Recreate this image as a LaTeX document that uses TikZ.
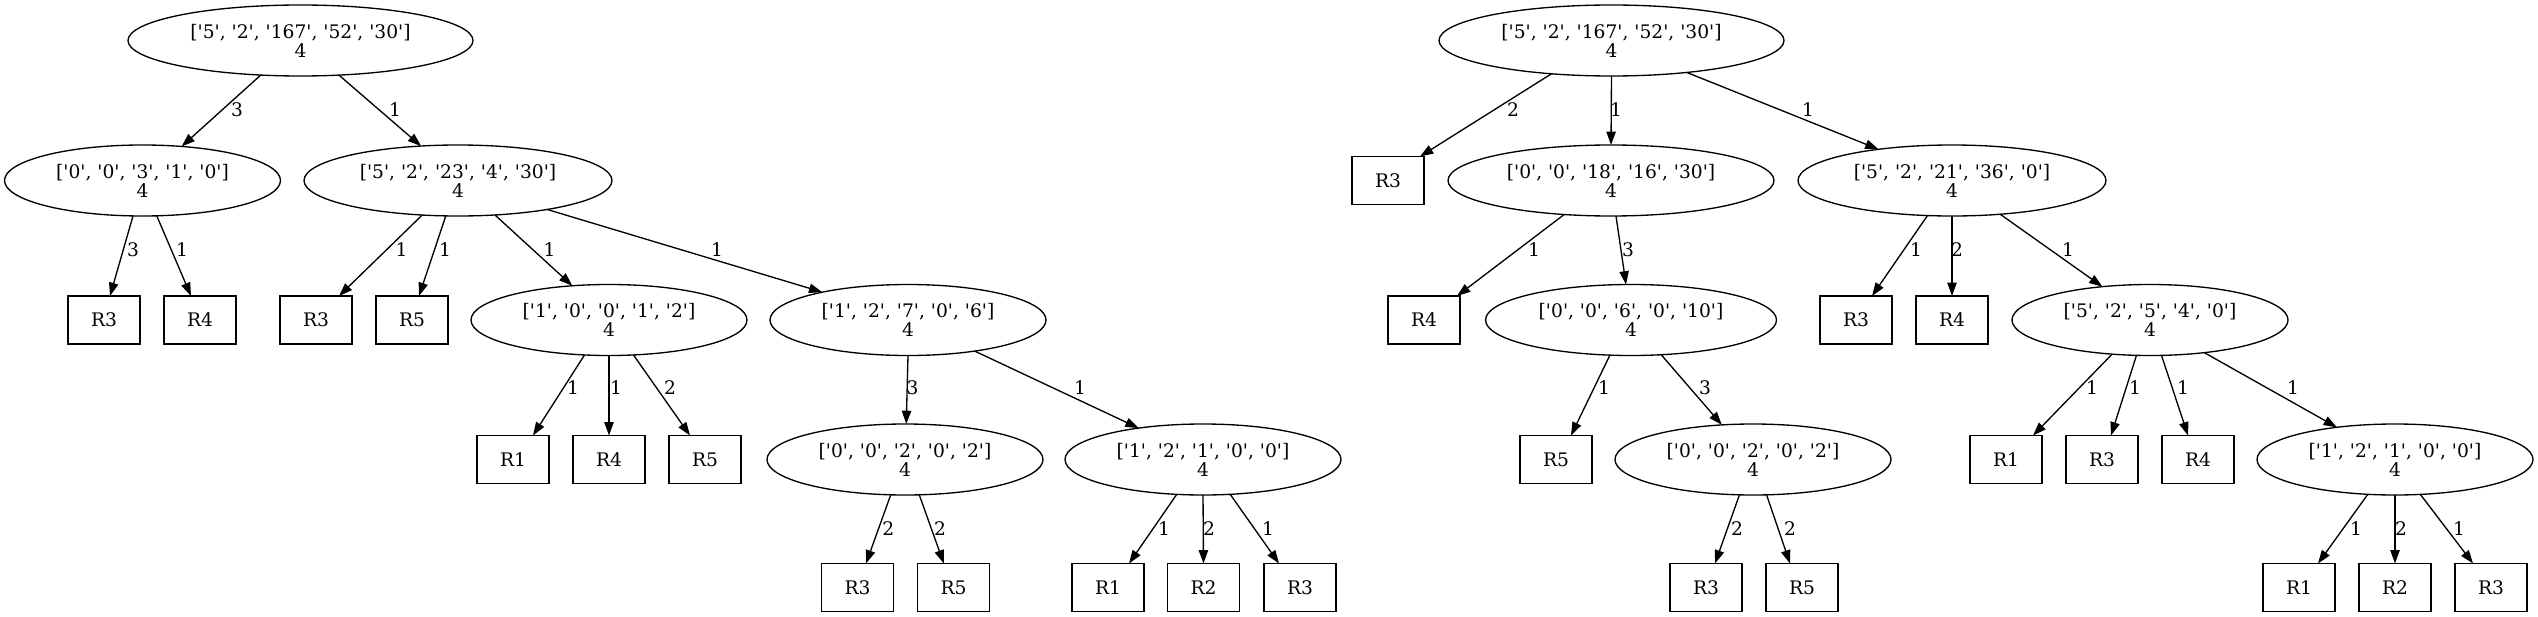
\documentclass[tikz,border=0pt]{standalone}
\usepackage{fontspec}
\setmainfont{DejaVu Serif}[Ligatures=TeXOff]
\usetikzlibrary{shapes.geometric,arrows.meta,calc}
\newcommand\nf{\fontsize{14}{14.25}\selectfont}
\begin{document}
\begin{tikzpicture}[x=0.75pt,y=-0.75pt,
  ell/.style={draw, ellipse, line width=1pt, minimum height=53.25pt, inner sep=0pt, outer sep=0pt, align=center, font=\nf},
  wA/.style={minimum width=258.75pt},
  wC/.style={minimum width=231pt},
  wI/.style={minimum width=244.5pt},
  wK/.style={minimum width=218.25pt},
  wS/.style={minimum width=207pt},
  leaf/.style={draw, rectangle, line width=1pt, minimum width=54pt, minimum height=36pt, inner sep=0pt, outer sep=0pt, font=\nf},
  edge/.style={line width=1pt, -{Triangle[length=10pt,width=7pt]}},
  lbl/.style={inner sep=0pt, font=\nf}]
\path[use as bounding box] (0,0) rectangle (2538,617);
% ---------------- left tree ----------------
\node[ell,wA] (A) at (300.5,40.5) {['5', '2', '167', '52', '30']\\4};
\node[ell,wS] (B) at (142.5,180.5) {['0', '0', '3', '1', '0']\\4};
\node[ell,wC] (C) at (458,180.5) {['5', '2', '23', '4', '30']\\4};
\node[leaf] (bR3) at (104,320) {R3};
\node[leaf] (bR4) at (200,320) {R4};
\node[leaf] (cR3) at (316,320) {R3};
\node[leaf] (cR5) at (412,320) {R5};
\node[ell,wS] (D) at (609,320) {['1', '0', '0', '1', '2']\\4};
\node[ell,wS] (E) at (908,320) {['1', '2', '7', '0', '6']\\4};
\node[leaf] (dR1) at (513,459.5) {R1};
\node[leaf] (dR4) at (609,459.5) {R4};
\node[leaf] (dR5) at (705,459.5) {R5};
\node[ell,wS] (F) at (905,459.5) {['0', '0', '2', '0', '2']\\4};
\node[ell,wS] (G) at (1203,459.5) {['1', '2', '1', '0', '0']\\4};
\node[leaf] (fR3) at (857.5,587.5) {R3};
\node[leaf] (fR5) at (953.5,587.5) {R5};
\node[leaf] (gR1) at (1108,587.5) {R1};
\node[leaf] (gR2) at (1203.5,587.5) {R2};
\node[leaf] (gR3) at (1300,587.5) {R3};

\draw[edge] (A.221.2) -- (B.41.5);
\draw[edge] (A.318) -- (C.137);
\draw[edge] (B.255) -- ($(bR3.north)+(6,0)$);
\draw[edge] (B.292.3) -- ($(bR4.north)+(-9,0)$);
\draw[edge] (C.224.6) -- ($(cR3.north)+(23,0)$);
\draw[edge] (C.251.3) -- ($(cR5.north)+(7,0)$);
\draw[edge] (C.317.8) -- (D.137.25);
\draw[edge] (C.342.8) -- (E.162.7);
\draw[edge] (D.235.5) -- ($(dR1.north)+(20,0)$);
\draw[edge] (D.270) -- (dR4.north);
\draw[edge] (D.305.6) -- ($(dR5.north)+(-15,0)$);
\draw[edge] (E.270) -- (F.88);
\draw[edge] (E.335.6) -- (G.154.3);
\draw[edge] (F.248.4) -- ($(fR3.north)+(8.5,0)$);
\draw[edge] (F.292.5) -- ($(fR5.north)+(-9.7,0)$);
\draw[edge] (G.233.8) -- ($(gR1.north)+(21,0)$);
\draw[edge] (G.270) -- (gR2.north);
\draw[edge] (G.308.9) -- ($(gR3.north)+(-21,0)$);

\node[lbl] (l1) at (237,110) {3};
\node[lbl] (l2) at (395,110) {1};
\node[lbl] (l3) at (133,250) {3};
\node[lbl] (l4) at (182,250) {1};
\node[lbl] (l5) at (401.5,250) {1};
\node[lbl] (l6) at (445,250) {1};
\node[lbl] (l7) at (549.5,250) {1};
\node[lbl] (l8) at (717,250) {1};
\node[lbl] (l9) at (573,388) {1};
\node[lbl] (l10) at (616,388) {1};
\node[lbl] (l11) at (670,388) {2};
\node[lbl] (l12) at (912.5,388) {3};
\node[lbl] (l13) at (1080,388) {1};
\node[lbl] (l14) at (888.4,529) {2};
\node[lbl] (l15) at (940,529) {2};
\node[lbl] (l16) at (1164,529) {1};
\node[lbl] (l17) at (1209,529) {2};
\node[lbl] (l18) at (1268,529) {1};

% ---------------- right tree ----------------
\node[ell,wA] (H) at (1611.5,40.5) {['5', '2', '167', '52', '30']\\4};
\node[leaf] (hR3) at (1388,180.5) {R3};
\node[ell,wI] (I) at (1611,180.5) {['0', '0', '18', '16', '30']\\4};
\node[ell,wC] (J) at (1952,180.5) {['5', '2', '21', '36', '0']\\4};
\node[leaf] (iR4) at (1424,320) {R4};
\node[ell,wK] (K) at (1631,320) {['0', '0', '6', '0', '10']\\4};
\node[leaf] (jR3) at (1856,320) {R3};
\node[leaf] (jR4) at (1952,320) {R4};
\node[ell,wS] (L) at (2150,320) {['5', '2', '5', '4', '0']\\4};
\node[leaf] (kR5) at (1556,459.5) {R5};
\node[ell,wS] (M) at (1753,459.5) {['0', '0', '2', '0', '2']\\4};
\node[leaf] (lR1) at (2006,459.5) {R1};
\node[leaf] (lR3) at (2102,459.5) {R3};
\node[leaf] (lR4) at (2198,459.5) {R4};
\node[ell,wS] (N) at (2395,459.5) {['1', '2', '1', '0', '0']\\4};
\node[leaf] (mR3) at (1706,587.5) {R3};
\node[leaf] (mR5) at (1802,587.5) {R5};
\node[leaf] (nR1) at (2299,587.5) {R1};
\node[leaf] (nR2) at (2395,587.5) {R2};
\node[leaf] (nR3) at (2491,587.5) {R3};

\draw[edge] (H.209.7) -- ($(hR3.north)+(32,0)$);
\draw[edge] (H.270) -- (I.90);
\draw[edge] (H.337.1) -- (J.157.9);
\draw[edge] (I.216.5) -- ($(iR4.north)+(33,0)$);
\draw[edge] (I.278) -- (K.98);
\draw[edge] (J.235.6) -- ($(jR3.north)+(16,0)$);
\draw[edge] (J.270) -- (jR4.north);
\draw[edge] (J.325.5) -- (L.145.9);
\draw[edge] (K.239.1) -- ($(kR5.north)+(15,0)$);
\draw[edge] (K.311.8) -- (M.132.8);
\draw[edge] (L.222.75) -- ($(lR1.north)+(27,0)$);
\draw[edge] (L.249.8) -- ($(lR3.north)+(9,0)$);
\draw[edge] (L.288.7) -- ($(lR4.north)+(-10,0)$);
\draw[edge] (L.329.9) -- (N.151);
\draw[edge] (M.249.8) -- ($(mR3.north)+(9,0)$);
\draw[edge] (M.291.6) -- ($(mR5.north)+(-12,0)$);
\draw[edge] (N.232.5) -- ($(nR1.north)+(19,0)$);
\draw[edge] (N.270) -- (nR2.north);
\draw[edge] (N.306.7) -- ($(nR3.north)+(-18,0)$);

\node[lbl] (r1) at (1513,110) {2};
\node[lbl] (r2) at (1616,110) {1};
\node[lbl] (r3) at (1808,110) {1};
\node[lbl] (r4) at (1534,250) {1};
\node[lbl] (r5) at (1628,250) {3};
\node[lbl] (r6) at (1916,250) {1};
\node[lbl] (r7) at (1957,250) {2};
\node[lbl] (r8) at (2068,250) {1};
\node[lbl] (r9) at (1604,388) {1};
\node[lbl] (r10) at (1705,388) {3};
\node[lbl] (r11) at (2092,388) {1};
\node[lbl] (r12) at (2135,388) {1};
\node[lbl] (r13) at (2183,388) {1};
\node[lbl] (r14) at (2293,388) {1};
\node[lbl] (r15) at (1737,529) {2};
\node[lbl] (r16) at (1790,529) {2};
\node[lbl] (r17) at (2356,529) {1};
\node[lbl] (r18) at (2401,529) {2};
\node[lbl] (r19) at (2459,529) {1};
\end{tikzpicture}
\end{document}
